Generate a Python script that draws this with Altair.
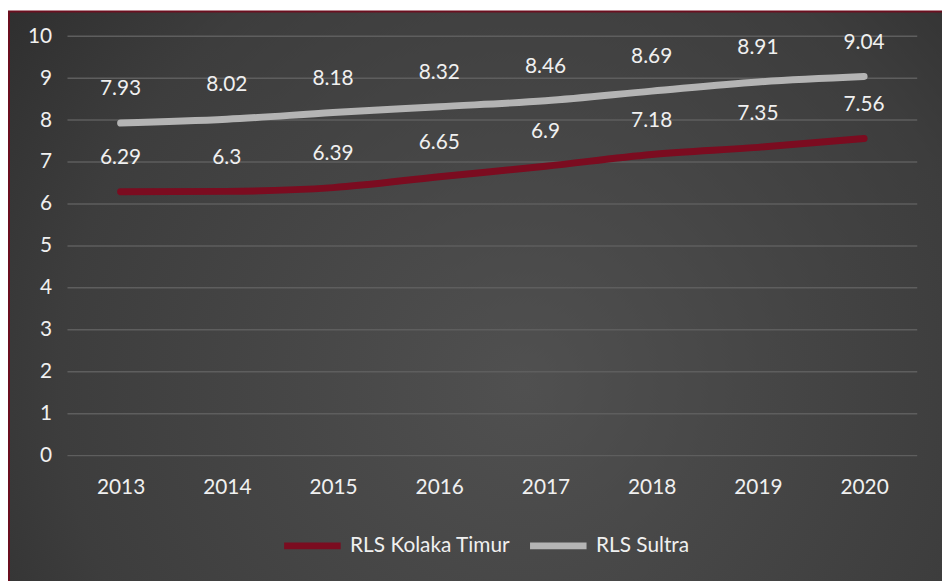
import altair as alt
import pandas as pd

years = ["2013", "2014", "2015", "2016", "2017", "2018", "2019", "2020"]
kolaka = [6.29, 6.3, 6.39, 6.65, 6.9, 7.18, 7.35, 7.56]
sultra = [7.93, 8.02, 8.18, 8.32, 8.46, 8.69, 8.91, 9.04]
y_ticks = [0, 1, 2, 3, 4, 5, 6, 7, 8, 9, 10]
series_names = ["RLS Kolaka Timur", "RLS Sultra"]
series_colors = ["#7b0c20", "#b4b4b4"]

rows = []
for y, k, s in zip(years, kolaka, sultra):
    rows.append({"year": y, "value": k, "series": series_names[0]})
    rows.append({"year": y, "value": s, "series": series_names[1]})
df = pd.DataFrame(rows)

W, H = 857, 423
FONT = "Lato"
TXT = "#f0f0f0"

bg = alt.Chart(pd.DataFrame({"a": [0]})).mark_rect(
    fill=alt.RadialGradient(
        gradient="radial",
        x1=0.5, y1=0.55, r1=0.0, x2=0.5, y2=0.55, r2=0.75,
        stops=[alt.GradientStop(color="#505050", offset=0),
               alt.GradientStop(color="#3d3d3d", offset=0.6),
               alt.GradientStop(color="#242424", offset=1)],
    ),
    stroke="#6b0f1f", strokeWidth=2,
).encode(
    x=alt.value(-59), x2=alt.value(W + 120),
    y=alt.value(-25), y2=alt.value(H + 200),
)

yscale = alt.Scale(domain=[0, 10], nice=False)
yaxis = alt.Axis(title=None, values=y_ticks, ticks=False, domain=False,
                 grid=False, zindex=1,
                 labelFontSize=21, labelColor=TXT, labelFont=FONT, labelPadding=16)

grid = alt.Chart(pd.DataFrame({"t": y_ticks})).mark_rule(color="#5e5e5e", strokeWidth=1.5).encode(
    y=alt.Y("t:Q", scale=yscale, axis=yaxis),
    x=alt.value(0), x2=alt.value(W),
)

xenc = alt.X("year:N", sort=years,
             scale=alt.Scale(type="point", padding=0.5),
             axis=alt.Axis(title=None, labelAngle=0, ticks=False, domain=False, grid=False,
                           labelFontSize=21, labelColor=TXT, labelFont=FONT, labelPadding=21,
                           zindex=1))
yenc = alt.Y("value:Q", scale=yscale, axis=yaxis)
cenc = alt.Color("series:N", scale=alt.Scale(domain=series_names, range=series_colors),
                 legend=alt.Legend(title=None, orient="none", direction="horizontal",
                                   legendX=215, legendY=482,
                                   symbolType="stroke", symbolSize=3249, symbolStrokeWidth=7,
                                   labelFontSize=21, labelColor=TXT, labelFont=FONT,
                                   labelLimit=400,
                                   labelOffset=6, columnPadding=5, zindex=1))

lines = alt.Chart(df).mark_line(strokeWidth=7, strokeCap="round", interpolate="monotone").encode(
    x=xenc, y=yenc, color=cenc, detail="series:N"
)
labels = alt.Chart(df).mark_text(dy=-34, fontSize=21, font=FONT, color=TXT).encode(
    x=alt.X("year:N", sort=years), y="value:Q", text=alt.Text("value:Q")
)

chart = alt.layer(bg, grid, lines, labels).properties(
    width=W, height=H,
    autosize=alt.AutoSizeParams(type="none"),
    padding={"left": 60, "top": 26, "right": 25, "bottom": 125},
    background="white",
).configure_view(stroke=None)

chart.save("out.html", embed_options={"renderer": "svg", "actions": False})
